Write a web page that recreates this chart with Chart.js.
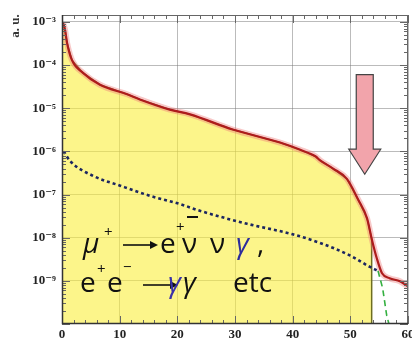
<!DOCTYPE html>
<html>
<head>
<meta charset="utf-8">
<script src="https://cdn.jsdelivr.net/npm/chart.js@4/dist/chart.umd.min.js"></script>
<style>
  html, body { margin: 0; padding: 0; background: #fff; }
  #wrap { width: 412px; height: 346px; }
</style>
</head>
<body>
<div id="wrap"><canvas id="spectrum"></canvas></div>
<script>
// total spectrum (MeV, a.u.)
const totalE = [0.17, 0.52, 0.87, 1.73, 3.64, 6.59, 11.3, 13.5, 18.7, 22.2, 29.6, 37.8, 41.2,
                44.0, 44.7, 47.0, 49.4, 51.3, 52.9, 53.7, 54.6, 55.5, 56.8, 58.6, 60.0];
const totalV = [9.5e-4, 6.6e-4, 3.3e-4, 1.3e-4, 6.6e-5, 3.5e-5, 2.1e-5, 1.6e-5, 9.3e-6, 7.2e-6, 3.2e-6, 1.6e-6, 1.1e-6,
                7.6e-7, 6.3e-7, 4.0e-7, 2.3e-7, 7.9e-8, 2.8e-8, 9.5e-9, 3.3e-9, 1.5e-9, 1.15e-9, 9.8e-10, 7.4e-10];

// radiative decay / annihilation photons
const gammaE = [0.3, 1.4, 5.4, 10.1, 15.3, 20.5, 23.9, 32.1, 40.0, 44.7, 49.9, 53.4, 54.8];
const gammaV = [1.0e-6, 6.0e-7, 2.7e-7, 1.6e-7, 9.3e-8, 6.0e-8, 4.2e-8, 2.1e-8, 1.2e-8, 7.6e-9, 3.9e-9, 2.1e-9, 1.7e-9];

// cut-off beyond the endpoint
const tailE = [54.8, 55.6, 56.3, 56.7];
const tailV = [1.7e-9, 6.8e-10, 1.6e-10, 1.0e-10];

const xTicks = [0, 10, 20, 30, 40, 50, 60];
const yTickExp = [-9, -8, -7, -6, -5, -4, -3];
const yMin = 1e-10, yMax = Math.pow(10, -2.84);

const fillEdgeE = 53.7;   // shaded region stops here
const arrowE = 52.5, arrowTop = Math.pow(10, -4.22), arrowTip = Math.pow(10, -6.53), arrowNeck = Math.pow(10, -5.95);

const pts = (xs, ys) => xs.map((x, i) => ({ x: x, y: ys[i] }));
const totalPts = pts(totalE, totalV);
const shadedPts = totalPts.filter(p => p.x <= fillEdgeE).concat([{ x: fillEdgeE, y: yMin }]);

const supDigits = { '-': '\u207B', '0': '\u2070', '1': '\u00B9', '2': '\u00B2', '3': '\u00B3', '4': '\u2074',
                    '5': '\u2075', '6': '\u2076', '7': '\u2077', '8': '\u2078', '9': '\u2079' };
const sup = s => String(s).split('').map(c => supDigits[c]).join('');

// inward ticks on all four sides plus the frame
const frameTicks = {
  id: 'frameTicks',
  afterDatasetsDraw(chart) {
    const { ctx, chartArea: a, scales: { x, y } } = chart;
    ctx.save();
    ctx.strokeStyle = '#666';
    ctx.lineWidth = 1;
    ctx.strokeRect(a.left + 0.5, a.top + 0.5, a.right - a.left - 1, a.bottom - a.top - 1);
    ctx.beginPath();
    for (let e = 0; e <= 60; e += 2) {
      const px = Math.round(x.getPixelForValue(e)) + 0.5;
      const len = e % 10 === 0 ? 8 : 4;
      ctx.moveTo(px, a.bottom); ctx.lineTo(px, a.bottom - len);
      ctx.moveTo(px, a.top); ctx.lineTo(px, a.top + len);
    }
    for (let d = -10; d <= -3; d++) {
      for (let m = 1; m <= 9; m++) {
        const v = m * Math.pow(10, d);
        if (v < y.min || v > y.max) continue;
        const py = Math.round(y.getPixelForValue(v)) + 0.5;
        const len = m === 1 ? 8 : 4;
        ctx.moveTo(a.left, py); ctx.lineTo(a.left + len, py);
        ctx.moveTo(a.right, py); ctx.lineTo(a.right - len, py);
      }
    }
    ctx.stroke();
    ctx.strokeStyle = '#333';
    ctx.lineWidth = 1.5;
    ctx.beginPath();
    ctx.moveTo(a.left + 0.5, a.top); ctx.lineTo(a.left + 0.5, a.bottom - 0.5); ctx.lineTo(a.right, a.bottom - 0.5);
    ctx.stroke();
    ctx.restore();
  }
};

// signal arrow at the endpoint
const endpointArrow = {
  id: 'endpointArrow',
  afterDatasetsDraw(chart) {
    const { ctx, scales: { x, y } } = chart;
    const cx = x.getPixelForValue(arrowE);
    const top = y.getPixelForValue(arrowTop), neck = y.getPixelForValue(arrowNeck), tip = y.getPixelForValue(arrowTip);
    const sw = 8.5, hw = 16;
    ctx.save();
    ctx.beginPath();
    ctx.moveTo(cx - sw, top); ctx.lineTo(cx + sw, top); ctx.lineTo(cx + sw, neck);
    ctx.lineTo(cx + hw, neck); ctx.lineTo(cx, tip); ctx.lineTo(cx - hw, neck);
    ctx.lineTo(cx - sw, neck); ctx.closePath();
    ctx.fillStyle = '#f2a4ab';
    ctx.fill();
    ctx.strokeStyle = '#444';
    ctx.lineWidth = 1.2;
    ctx.stroke();
    ctx.restore();
  }
};

// process labels and the y-axis caption
const processText = {
  id: 'processText',
  afterDraw(chart) {
    const { ctx, chartArea: a } = chart;
    const L = a.left, T = a.top;
    const main = '28px "Open Sans", "DejaVu Sans", sans-serif';
    const small = '15px "Open Sans", "DejaVu Sans", sans-serif';
    const put = (t, dx, dy, font, color) => {
      ctx.font = font;
      ctx.fillStyle = color || '#111';
      ctx.fillText(t, L + dx, T + dy);
    };
    const rarrow = (x0, x1, yy) => {
      ctx.strokeStyle = '#111';
      ctx.fillStyle = '#111';
      ctx.lineWidth = 1.6;
      ctx.beginPath();
      ctx.moveTo(L + x0, T + yy); ctx.lineTo(L + x1 - 6, T + yy);
      ctx.stroke();
      ctx.beginPath();
      ctx.moveTo(L + x1, T + yy); ctx.lineTo(L + x1 - 8, T + yy - 4); ctx.lineTo(L + x1 - 8, T + yy + 4);
      ctx.closePath();
      ctx.fill();
    };
    ctx.save();
    ctx.textBaseline = 'alphabetic';
    // line 1
    put('\u03BC', 21, 238, 'italic ' + main);
    put('+', 42, 222, small);
    rarrow(61, 96, 230);
    put('e', 98, 238, main);
    put('+', 114, 217, small);
    put('\u03BD', 120, 238, main);
    ctx.fillStyle = '#111';
    ctx.fillRect(L + 125, T + 201, 11, 2);
    put('\u03BD', 148, 238, main);
    put('\u03B3', 174, 238, 'italic ' + main, '#2c2c9c');
    put(',', 195, 238, main);
    // line 2
    put('e', 18, 277, main);
    put('+', 35, 259, small);
    put('e', 45, 277, main);
    put('\u2212', 61, 257, small);
    rarrow(81, 116, 270);
    put('\u03B3', 106, 277, 'italic ' + main, '#3a32a8');
    put('\u03B3', 121, 277, 'italic ' + main);
    put('etc', 171, 277, main);

    // y caption, reading upwards
    ctx.translate(16, 26);
    ctx.rotate(-Math.PI / 2);
    ctx.font = 'bold 13px "Liberation Serif", "DejaVu Serif", serif';
    ctx.fillStyle = '#333';
    ctx.textAlign = 'center';
    ctx.textBaseline = 'middle';
    ctx.fillText('a. u.', 0, 0);
    ctx.restore();
  }
};

const serifBold = { family: '"Liberation Serif", "DejaVu Serif", serif', weight: 'bold' };

new Chart(document.getElementById('spectrum').getContext('2d'), {
  type: 'line',
  data: {
    datasets: [
      {
        data: shadedPts,
        borderColor: '#6e6e20',
        borderWidth: 1.5,
        backgroundColor: 'rgba(250, 238, 60, 0.6)',
        fill: 'start',
        pointRadius: 0,
        tension: 0,
        order: 5
      },
      {
        data: totalPts,
        borderColor: 'rgba(238, 120, 120, 0.4)',
        borderWidth: 6,
        pointRadius: 0,
        cubicInterpolationMode: 'monotone',
        fill: false,
        order: 4
      },
      {
        data: pts(tailE, tailV),
        borderColor: '#34b040',
        borderWidth: 1.6,
        borderDash: [6, 4],
        pointRadius: 0,
        fill: false,
        order: 3
      },
      {
        data: pts(gammaE, gammaV),
        borderColor: '#1c2660',
        borderWidth: 2.6,
        borderDash: [3, 3],
        pointRadius: 0,
        cubicInterpolationMode: 'monotone',
        fill: false,
        order: 2
      },
      {
        data: totalPts,
        borderColor: '#ad1c1c',
        borderWidth: 2.2,
        pointRadius: 0,
        cubicInterpolationMode: 'monotone',
        fill: false,
        order: 1
      }
    ]
  },
  options: {
    responsive: true,
    maintainAspectRatio: false,
    animation: false,
    layout: { padding: { top: 15, right: 4, left: 0, bottom: 0 } },
    plugins: { legend: { display: false }, tooltip: { enabled: false } },
    scales: {
      x: {
        type: 'linear',
        min: 0,
        max: 60,
        afterBuildTicks: s => { s.ticks = xTicks.map(v => ({ value: v })); },
        afterFit: s => { s.height = 22; s.paddingLeft = 0; s.paddingRight = 0; },
        ticks: { color: '#222', padding: 3, maxRotation: 0, font: Object.assign({ size: 13 }, serifBold) },
        grid: { color: 'rgba(120, 120, 120, 0.5)', drawTicks: false },
        border: { display: false }
      },
      y: {
        type: 'logarithmic',
        min: yMin,
        max: yMax,
        afterBuildTicks: s => { s.ticks = yTickExp.map(e => ({ value: Math.pow(10, e) })); },
        afterFit: s => { s.width = 62; },
        ticks: {
          color: '#222',
          padding: 6,
          font: Object.assign({ size: 13 }, serifBold),
          callback: v => '10' + sup(Math.round(Math.log10(v)))
        },
        grid: { color: 'rgba(120, 120, 120, 0.5)', drawTicks: false },
        border: { display: false }
      }
    }
  },
  plugins: [frameTicks, endpointArrow, processText]
});
</script>
</body>
</html>
